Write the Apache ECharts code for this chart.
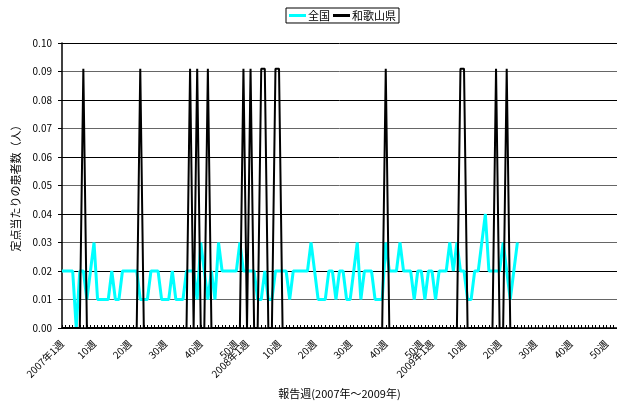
<!DOCTYPE html>
<html>
<head>
<meta charset="utf-8">
<script src="https://cdn.jsdelivr.net/npm/echarts@6/dist/echarts.min.js"></script>
<style>
html,body{margin:0;padding:0;background:#fff;}
#chart{width:617px;height:407px;}
</style>
</head>
<body>
<div id="chart"></div>
<script>
// Week structure of the x axis
const years = [2007, 2008, 2009];
const weeksInYear = [52, 52, 53];

// Series values (per-sentinel patients)
const seriesNames = ['全国', '和歌山県'];
const national = [
  0.02,0.02,0.02,0.02,0.00,0.02,0.02,0.01,0.02,0.03,
  0.01,0.01,0.01,0.01,0.02,0.01,0.01,0.02,0.02,0.02,
  0.02,0.02,0.01,0.01,0.01,0.02,0.02,0.02,0.01,0.01,
  0.01,0.02,0.01,0.01,0.01,0.02,0.02,0.02,0.01,0.03,
  0.02,0.01,0.02,0.01,0.03,0.02,0.02,0.02,0.02,0.02,
  0.03,0.02,0.02,0.02,0.02,0.01,0.01,0.02,0.01,0.01,
  0.02,0.02,0.02,0.02,0.01,0.02,0.02,0.02,0.02,0.02,
  0.03,0.02,0.01,0.01,0.01,0.02,0.02,0.01,0.02,0.02,
  0.01,0.01,0.02,0.03,0.01,0.02,0.02,0.02,0.01,0.01,
  0.01,0.03,0.02,0.02,0.02,0.03,0.02,0.02,0.02,0.01,
  0.02,0.02,0.01,0.02,0.02,0.01,0.02,0.02,0.02,0.03,
  0.02,0.03,0.02,0.02,0.01,0.01,0.02,0.02,0.03,0.04,
  0.02,0.02,0.02,0.02,0.03,0.02,0.01,0.02,0.03
];
const wakayama = [
  0,0,0,0,0,0,0.091,0,0,0,
  0,0,0,0,0,0,0,0,0,0,
  0,0,0.091,0,0,0,0,0,0,0,
  0,0,0,0,0,0,0.091,0,0.091,0,
  0,0.091,0,0,0,0,0,0,0,0,
  0,0.091,0,0.091,0,0,0.091,0.091,0,0,
  0.091,0.091,0,0,0,0,0,0,0,0,
  0,0,0,0,0,0,0,0,0,0,
  0,0,0,0,0,0,0,0,0,0,
  0,0.091,0,0,0,0,0,0,0,0,
  0,0,0,0,0,0,0,0,0,0,
  0,0,0.091,0.091,0,0,0,0,0,0,
  0,0,0.091,0,0,0.091,0,0,0
];

// Axis text
const yTickMin = 0, yTickMax = 0.10, yTickStep = 0.01;
const yAxisTitle = '定点当たりの患者数（人）';
const xAxisTitle = '報告週(2007年～2009年)';

const categories = [];
const weekNumbers = [];
years.forEach((y, k) => {
  for (let w = 1; w <= weeksInYear[k]; w++) {
    categories.push(w === 1 ? y + '年1週' : w + '週');
    weekNumbers.push(w);
  }
});

const FONT = '"Noto Sans CJK JP", "Noto Sans", sans-serif';
const chart = echarts.init(document.getElementById('chart'));
chart.setOption({
  animation: false,
  backgroundColor: '#fff',
  textStyle: { fontFamily: FONT, color: '#000' },
  legend: {
    top: 8,
    left: 286,
    data: seriesNames,
    icon: 'rect',
    borderColor: '#000',
    borderWidth: 1,
    borderRadius: 0,
    padding: [2, 3, 2, 3],
    itemGap: 3,
    itemWidth: 17,
    itemHeight: 3,
    textStyle: { fontSize: 11, color: '#000', fontFamily: FONT, padding: [0, 0, 0, -3] }
  },
  grid: { left: 62, right: 0, top: 43, bottom: 79, containLabel: false },
  xAxis: {
    type: 'category',
    data: categories,
    boundaryGap: false,
    name: xAxisTitle,
    nameLocation: 'middle',
    nameGap: 60,
    nameTextStyle: { fontSize: 11, color: '#000', fontFamily: FONT },
    axisLine: { lineStyle: { color: '#000', width: 1.5 } },
    axisTick: { show: true, inside: true, length: 3, interval: 0, lineStyle: { color: '#000' } },
    axisLabel: {
      rotate: 45,
      margin: 14,
      fontSize: 10,
      color: '#000',
      fontFamily: FONT,
      interval: (i) => weekNumbers[i] === 1 || weekNumbers[i] % 10 === 0
    },
    splitLine: { show: false }
  },
  yAxis: {
    type: 'value',
    min: yTickMin,
    max: yTickMax,
    interval: yTickStep,
    name: yAxisTitle,
    nameLocation: 'middle',
    nameGap: 39,
    nameTextStyle: { fontSize: 11, color: '#000', fontFamily: FONT },
    axisLine: { show: true, lineStyle: { color: '#000', width: 1.5 } },
    axisTick: { show: true, length: 4, lineStyle: { color: '#000' } },
    axisLabel: { margin: 10, fontSize: 10, color: '#000', fontFamily: FONT, formatter: v => v.toFixed(2) },
    splitLine: { show: true, lineStyle: { color: ['#000', '#666'], width: 1 } }
  },
  series: [
    {
      name: seriesNames[0], type: 'line', data: national, symbol: 'none',
      lineStyle: { color: '#00FFFF', width: 3 }, itemStyle: { color: '#00FFFF' }
    },
    {
      name: seriesNames[1], type: 'line', data: wakayama, symbol: 'none',
      lineStyle: { color: '#000', width: 2 }, itemStyle: { color: '#000' }
    }
  ]
});
</script>
</body>
</html>
